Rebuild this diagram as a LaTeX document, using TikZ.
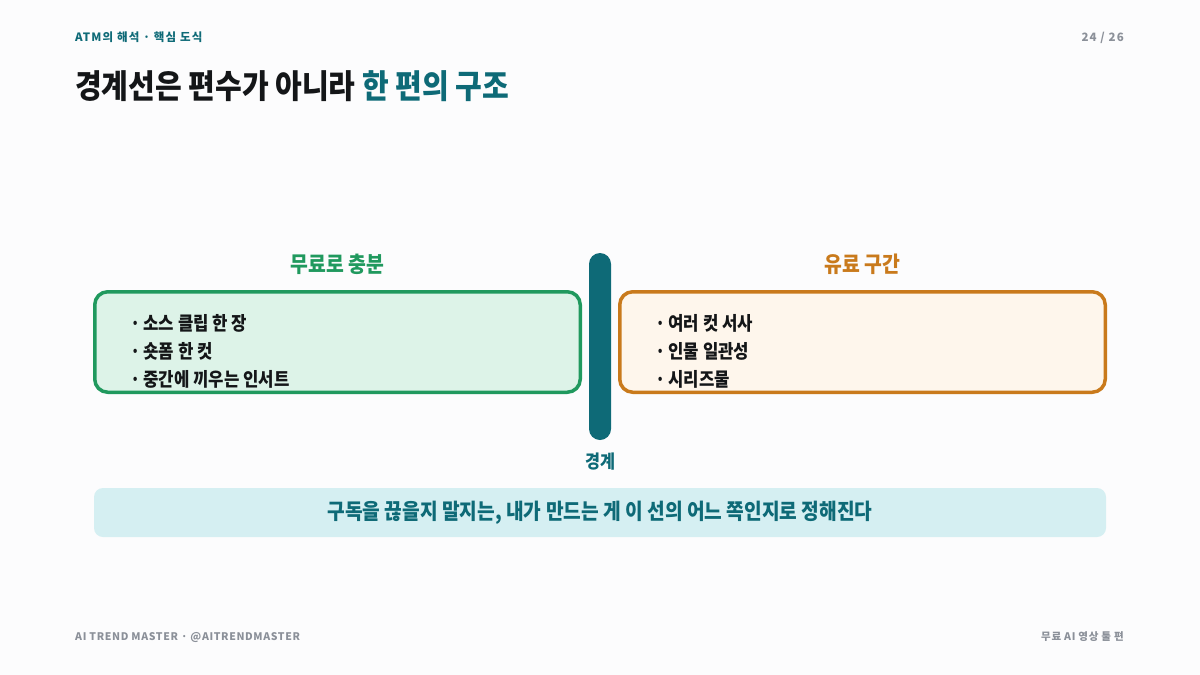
\documentclass[tikz,border=0pt]{standalone}
\usepackage{fontspec}
\usepackage{xcolor}
\usepackage{tikz}
\setmainfont{Noto Sans CJK KR}[FakeStretch=0.88]
\newfontfamily\trk{Noto Sans CJK KR}[LetterSpace=10]
\newfontfamily\ftrk{Noto Sans CJK KR}[LetterSpace=6]
\definecolor{bg}{HTML}{FCFCFD}
\definecolor{ink}{HTML}{141618}
\definecolor{tl}{HTML}{0E6A77}
\definecolor{gr}{HTML}{20995E}
\definecolor{grbg}{HTML}{DDF3E8}
\definecolor{og}{HTML}{C97A1C}
\definecolor{ogbg}{HTML}{FEF6EC}
\definecolor{nt}{HTML}{D5EFF2}
\definecolor{mu}{HTML}{8B9099}
\tikzset{
  hd/.style={font=\trk\bfseries\fontsize{11.5}{13}\selectfont,inner sep=0pt},
  ft/.style={font=\ftrk\bfseries\fontsize{10.5}{13}\selectfont,text=mu,inner sep=0pt},
  ttl/.style={font=\bfseries\fontsize{33}{36}\selectfont,text=ink,anchor=west,inner sep=0pt},
  lbl/.style={font=\bfseries\fontsize{22}{24}\selectfont,inner sep=0pt},
  zone/.style={rounded corners=13pt,line width=3.5pt,minimum width=485.5pt,minimum height=100.5pt},
  itm/.style={font=\bfseries\fontsize{19}{21}\selectfont,text=ink,anchor=west,inner sep=0pt},
  bar/.style={fill=tl,rounded corners=11pt,minimum width=22pt,minimum height=187pt,inner sep=0pt},
  note/.style={fill=nt,rounded corners=9pt,minimum width=1012pt,minimum height=49pt,inner sep=0pt,
    text=tl,font=\bfseries\fontsize{21.8}{24}\selectfont}
}
\newcommand{\pt}[1]{·\,#1}

\begin{document}
\begin{tikzpicture}[x=1pt,y=-1pt]
\fill[bg] (0,0) rectangle (1200,675);
\useasboundingbox (0,0) rectangle (1200,675);
% header
\node[hd,text=tl,anchor=west] (sec) at (75,37) {ATM의 해석 · 핵심 도식};
\node[hd,text=mu,anchor=east] (pg) at (1124,38) {24 / 26};
\node[ttl] (ttl) at (75,86) {경계선은 편수가 아니라 {\color{tl}한 편의 구조}};
% free side
\node[lbl,text=gr] (freel) at (337.5,264) {무료로 충분};
\node[zone,draw=gr,fill=grbg] (free) at (337.5,342) {};
\node[itm] (f1) at (130,323) {\pt{소스 클립 한 장}};
\node[itm] (f2) at (130,351) {\pt{숏폼 한 컷}};
\node[itm] (f3) at (130,379) {\pt{중간에 끼우는 인서트}};
% paid side
\node[lbl,text=og] (paidl) at (862.5,264) {유료 구간};
\node[zone,draw=og,fill=ogbg] (paid) at (862.5,342) {};
\node[itm] (p1) at (655,323) {\pt{여러 컷 서사}};
\node[itm] (p2) at (655,351) {\pt{인물 일관성}};
\node[itm] (p3) at (655,379) {\pt{시리즈물}};
% boundary
\node[bar] (line) at (600,346.5) {};
\node[lbl,text=tl,font=\bfseries\fontsize{18.5}{20}\selectfont] (linel) at (600,462) {경계};
\node[note] (msg) at (600,512.5) {구독을 끊을지 말지는, 내가 만드는 게 이 선의 어느 쪽인지로 정해진다};
% footer
\node[ft,anchor=west] (brand) at (75,637) {AI TREND MASTER · @AITRENDMASTER};
\node[ft,anchor=east] (part) at (1124,637) {무료 AI 영상 툴 편};
\end{tikzpicture}
\end{document}
